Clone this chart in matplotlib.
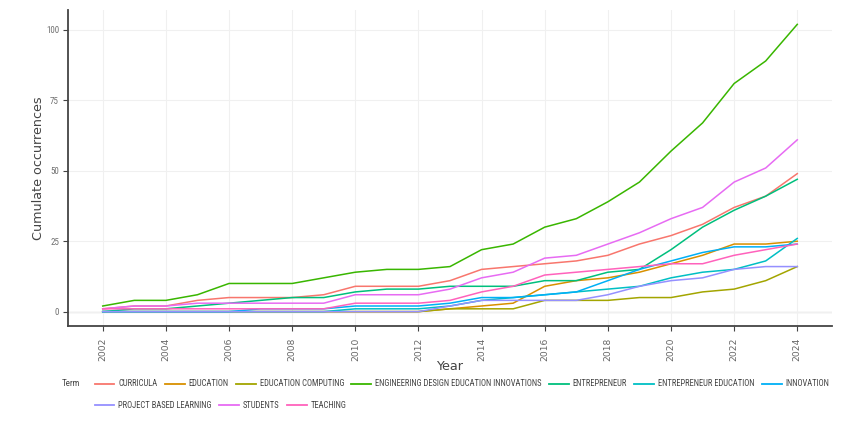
import matplotlib
matplotlib.use('Agg')
import matplotlib.pyplot as plt
from matplotlib.lines import Line2D

years = list(range(2002, 2025))

terms = ["CURRICULA", "EDUCATION", "EDUCATION COMPUTING",
         "ENGINEERING DESIGN EDUCATION INNOVATIONS", "ENTREPRENEUR",
         "ENTREPRENEUR EDUCATION", "INNOVATION", "PROJECT BASED LEARNING",
         "STUDENTS", "TEACHING"]
colors = ["#F8766D", "#D89000", "#A3A500", "#39B600", "#00BF7D",
          "#00BFC4", "#00B0F6", "#9590FF", "#E76BF3", "#FF62BC"]

curricula = [1, 2, 2, 4, 5, 5, 5, 6, 9, 9, 9, 11, 15, 16, 17, 18, 20, 24, 27, 31, 37, 41, 49]
education = [0, 0, 0, 0, 0, 0, 0, 0, 0, 0, 0, 1, 2, 3, 9, 11, 12, 14, 17, 20, 24, 24, 25]
education_computing = [0, 0, 0, 0, 0, 0, 0, 0, 0, 0, 0, 1, 1, 1, 4, 4, 4, 5, 5, 7, 8, 11, 16]
engineering_design = [2, 4, 4, 6, 10, 10, 10, 12, 14, 15, 15, 16, 22, 24, 30, 33, 39, 46, 57, 67, 81, 89, 102]
entrepreneur = [0, 1, 1, 2, 3, 4, 5, 5, 7, 8, 8, 9, 9, 9, 11, 11, 14, 15, 22, 30, 36, 41, 47]
entrepreneur_education = [0, 0, 0, 0, 0, 0, 0, 0, 1, 1, 1, 2, 4, 5, 6, 7, 8, 9, 12, 14, 15, 18, 26]
innovation = [0, 0, 0, 0, 0, 1, 1, 1, 2, 2, 2, 3, 5, 5, 6, 7, 11, 15, 18, 21, 23, 23, 24]
project_based = [0, 0, 0, 0, 0, 0, 0, 0, 0, 0, 0, 2, 4, 4, 4, 4, 6, 9, 11, 12, 15, 16, 16]
students = [1, 2, 2, 3, 3, 3, 3, 3, 6, 6, 6, 8, 12, 14, 19, 20, 24, 28, 33, 37, 46, 51, 61]
teaching = [1, 1, 1, 1, 1, 1, 1, 1, 3, 3, 3, 4, 7, 9, 13, 14, 15, 16, 17, 17, 20, 22, 24]

series = [curricula, education, education_computing, engineering_design,
          entrepreneur, entrepreneur_education, innovation, project_based,
          students, teaching]

W, H = 861, 426
fig = plt.figure(figsize=(W / 100, H / 100), dpi=100)
ax = fig.add_axes([68 / W, 1 - 326 / H, (832 - 68) / W, (326 - 10) / H])

for vals, c, t in zip(series, colors, terms):
    ax.plot(years, vals, color=c, lw=1.1, label=t, zorder=3,
            solid_joinstyle='round')

ax.set_xlim(2000.9, 2025.1)
ax.set_ylim(-5.1, 107.1)
ax.set_xticks(list(range(2002, 2025, 2)))
ax.set_yticks([0, 25, 50, 75, 100])
ax.grid(True, color='#f0f0f0', lw=0.8, zorder=0)
ax.axhline(0, color='#dcdcdc', lw=1.0, zorder=1)

for s in ['top', 'right']:
    ax.spines[s].set_visible(False)
for s in ['left', 'bottom']:
    ax.spines[s].set_color('#444444')
    ax.spines[s].set_linewidth(1.3)

narrow = ['Liberation Sans Narrow', 'Roboto Condensed', 'Roboto', 'DejaVu Sans']

ax.tick_params(axis='x', length=3.5, width=0.8, color='#444444', pad=5,
               labelsize=6.6, labelcolor='#666666', labelrotation=90)
ax.tick_params(axis='y', length=3.5, width=0.8, color='#444444', pad=3,
               labelsize=6.5, labelcolor='#707070')
for lab in ax.get_yticklabels():
    lab.set_family(narrow)
for lab in ax.get_xticklabels():
    lab.set_family('DejaVu Sans')

ax.set_ylabel("Cumulate occurrences", fontsize=9.2, color='#444444',
              family='DejaVu Sans')
ax.yaxis.set_label_coords((45 - 68) / (832 - 68), 0.5)
ax.set_xlabel("Year", fontsize=9.2, color='#444444', family='DejaVu Sans')
ax.xaxis.set_label_coords(0.5, (326 - 360) / (326 - 10))

# ---- manual flowing legend (plotly-like, horizontal) ----
renderer = fig.canvas.get_renderer()


def px(x, y):
    return x / W, 1 - y / H


fig.text(*px(62, 384), "Term", fontsize=6.5, color='#444444',
         family=narrow, va='center', ha='left')

fs = 6.5
tmp = [fig.text(0, 0, t, fontsize=fs, family=narrow) for t in terms]
total = sum(t.get_window_extent(renderer).width for t in tmp)
for t in tmp:
    t.remove()
fs = fs * 700.0 / total

key_len, key_gap, item_gap = 20, 4, 7
x, row_y = 94.5, 384
for t, c in zip(terms, colors):
    txt = fig.text(0, 0, t, fontsize=fs, family=narrow)
    w = txt.get_window_extent(renderer).width
    txt.remove()
    if x + key_len + key_gap + w > 840:
        x = 94.5
        row_y += 21
    x0, y0 = px(x, row_y)
    x1, _ = px(x + key_len, row_y)
    fig.add_artist(Line2D([x0, x1], [y0, y0], transform=fig.transFigure,
                          color=c, lw=1.3))
    fig.text(*px(x + key_len + key_gap, row_y), t, fontsize=fs,
             family=narrow, color='#444444', va='center', ha='left')
    x += key_len + key_gap + w + item_gap

fig.savefig("out.png", dpi=100)
